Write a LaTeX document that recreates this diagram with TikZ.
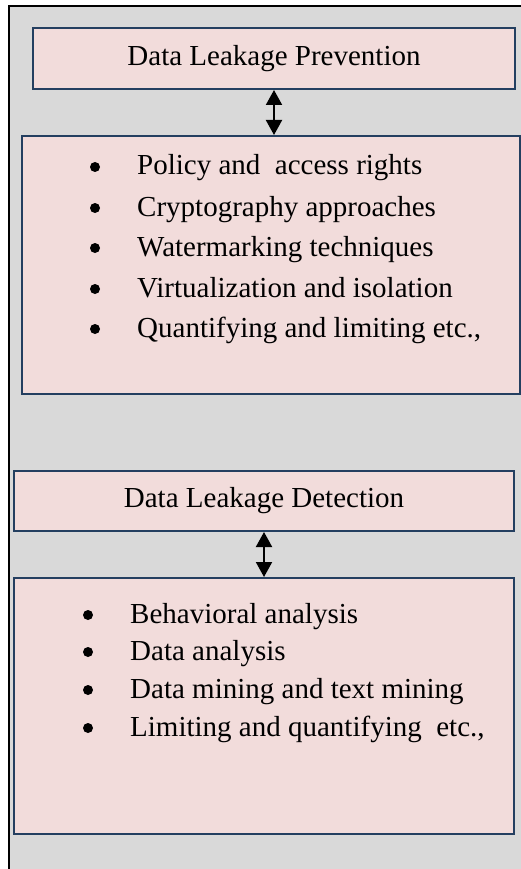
\documentclass[tikz,border=0pt]{standalone}
\usepackage{fontspec}
\setmainfont{Liberation Serif}
\usetikzlibrary{arrows.meta}

\definecolor{panelgray}{HTML}{D9D9D9}
\definecolor{boxpink}{HTML}{F2DCDB}
\definecolor{boxblue}{HTML}{243F60}

\tikzset{
  dlbox/.style={rectangle, draw=boxblue, line width=2pt, fill=boxpink, anchor=north west, inner sep=0pt, font=\fontsize{29}{34}\selectfont},
  dlbullet/.style={circle, fill=black, inner sep=0pt, minimum size=10pt},
  dlitem/.style={anchor=base west, inner sep=0pt, font=\fontsize{29}{34}\selectfont},
  dlarrow/.style={{Triangle[width=16pt,length=15pt]}-{Triangle[width=16pt,length=15pt]}, line width=2pt}
}

\begin{document}
\begin{tikzpicture}[x=1pt,y=-1pt]
\useasboundingbox (0,0) rectangle (521,869);
\clip (0,0) rectangle (521,869);
% grey panel with its frame
\fill[panelgray] (9,6) rectangle (540,890);
\draw[black, line width=2.2pt] (9,890) |- (540,6);

% prevention
\node[dlbox, minimum width=482pt, minimum height=61pt] (prevtitle) at (32,27) {Data Leakage Prevention};
\node[dlbox, minimum width=498pt, minimum height=258pt] (prevlist) at (21,135) {};
\node[dlbullet] (pb1) at (95,167) {};
\node[dlitem] (pi1) at (137,175) {Policy and \ access rights};
\node[dlbullet] (pb2) at (95,208) {};
\node[dlitem] (pi2) at (137,216) {Cryptography approaches};
\node[dlbullet] (pb3) at (95,248) {};
\node[dlitem] (pi3) at (137,256) {Watermarking techniques};
\node[dlbullet] (pb4) at (95,289) {};
\node[dlitem] (pi4) at (137,297) {Virtualization and isolation};
\node[dlbullet] (pb5) at (95,329) {};
\node[dlitem] (pi5) at (137,337) {Quantifying and limiting etc.,};
\draw[dlarrow] (prevtitle.south) -- (prevtitle.south |- prevlist.north);

% detection
\node[dlbox, minimum width=500pt, minimum height=60pt] (dettitle) at (13,470) {Data Leakage Detection};
\node[dlbox, minimum width=500pt, minimum height=256pt] (detlist) at (13,577) {};
\node[dlbullet] (db1) at (88,615) {};
\node[dlitem] (di1) at (130,623) {Behavioral analysis};
\node[dlbullet] (db2) at (88,652) {};
\node[dlitem] (di2) at (130,660) {Data analysis};
\node[dlbullet] (db3) at (88,690) {};
\node[dlitem] (di3) at (130,698) {Data mining and text mining};
\node[dlbullet] (db4) at (88,728) {};
\node[dlitem] (di4) at (130,736) {Limiting and quantifying \ etc.,};
\draw[dlarrow] (dettitle.south) -- (dettitle.south |- detlist.north);
\end{tikzpicture}
\end{document}
